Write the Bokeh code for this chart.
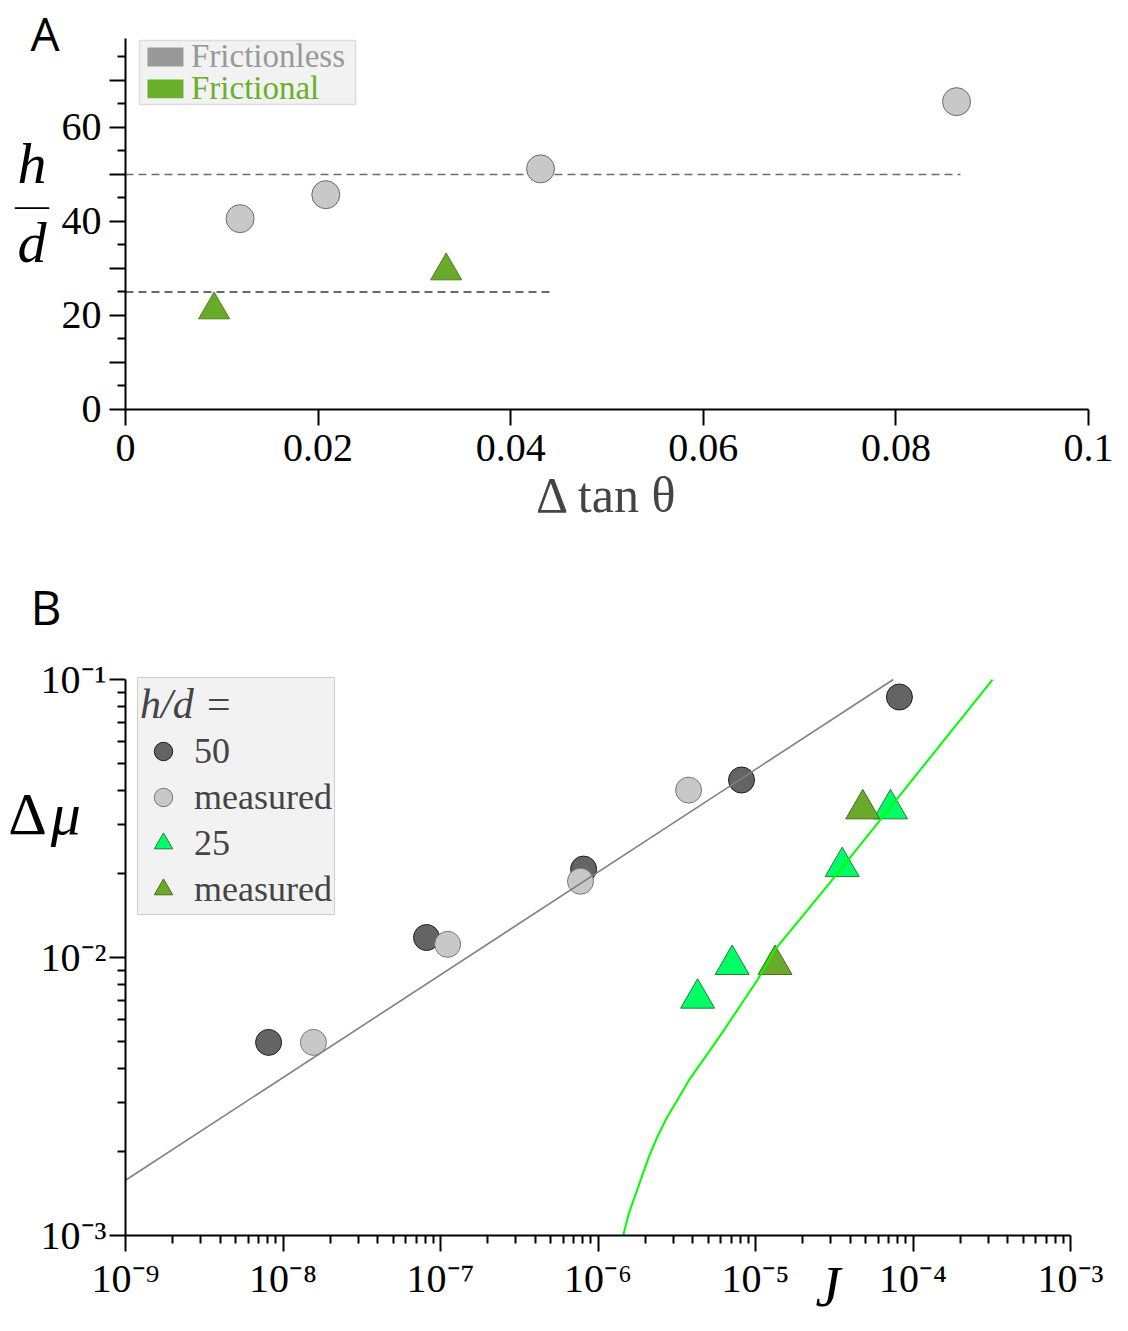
from bokeh.plotting import figure
from bokeh.models import (FixedTicker, CustomJSTickFormatter, Label, BoxAnnotation,
                          Legend, LegendItem, Range1d)
from bokeh.layouts import column
from bokeh.embed import file_html
from bokeh.resources import INLINE

# ---------------- Panel A data ----------------
a_frictionless_dtan = [0.0119, 0.0208, 0.0431, 0.0863]
a_frictionless_hd = [40.6, 45.7, 51.2, 65.5]
a_frictional_dtan = [0.0092, 0.0333]
a_frictional_hd = [21.2, 29.5]
a_ref_hd = [50, 25]
a_ref_xmax = [0.0867, 0.0444]
a_xticks = [0, 0.02, 0.04, 0.06, 0.08, 0.1]
a_yticks = [0, 10, 20, 30, 40, 50, 60, 70]
a_yminor = [5, 15, 25, 35, 45, 55, 65, 75]

# ---------------- Panel B data ----------------
b_J_50 = [8.1e-9, 8.15e-8, 8.1e-7, 8.15e-6, 8.2e-5]
b_dmu_50 = [4.95e-3, 0.0118, 0.0208, 0.0435, 0.0865]
b_J_meas_frless = [1.56e-8, 1.11e-7, 7.74e-7, 3.76e-6]
b_dmu_meas_frless = [4.95e-3, 0.01115, 0.0188, 0.040]
b_J_25 = [4.29e-6, 7.11e-6, 3.55e-5, 7.19e-5]
b_dmu_25 = [7.13e-3, 9.42e-3, 0.0212, 0.0342]
b_J_meas_fr = [1.33e-5, 4.8e-5]
b_dmu_meas_fr = [9.42e-3, 0.0342]
fit_grey_J = [1e-9, 7.5e-5]
fit_grey_dmu = [1.58e-3, 0.1]
fit_green_J = [1.445e-6, 1.569e-6, 1.862e-6, 2.10e-6, 2.377e-6, 2.75e-6, 3.18e-6,
               3.77e-6, 4.48e-6, 5.31e-6, 6.29e-6, 1.026e-5, 1.334e-5, 2.99e-5,
               5.93e-5, 3.2e-4]
fit_green_dmu = [1e-3, 1.2e-3, 1.578e-3, 1.914e-3, 2.26e-3, 2.667e-3, 3.06e-3,
                 3.614e-3, 4.15e-3, 4.762e-3, 5.47e-3, 8.28e-3, 0.0107, 0.01866,
                 0.0303, 0.1]
b_xticks = [1e-9, 1e-8, 1e-7, 1e-6, 1e-5, 1e-4, 1e-3]
b_yticks = [1e-3, 1e-2, 1e-1]

SERIF = "Liberation Serif"
SANS = "Open Sans"


def style_axis(ax, size="40px"):
    ax.axis_line_width = 2
    ax.axis_line_color = "black"
    ax.major_tick_line_width = 2
    ax.minor_tick_line_width = 2
    ax.major_tick_line_color = "black"
    ax.minor_tick_line_color = "black"
    ax.major_tick_out = 16
    ax.major_tick_in = 0
    ax.minor_tick_out = 8
    ax.minor_tick_in = 0
    ax.major_label_text_font = SERIF
    ax.major_label_text_font_size = size
    ax.major_label_text_color = "black"


def lbl(x, y, text, size, font=SERIF, style="normal", color="black", align="left"):
    return Label(x=x, y=y, text=text, text_font=font, text_font_style=style,
                 text_font_size=size, text_color=color, text_align=align,
                 text_baseline="middle")


# ================= Panel A =================
# frame covers the whole figure; axes sit at fixed data locations
pa = figure(width=1128, height=560,
            x_range=Range1d(-0.012980, 0.104154), y_range=Range1d(-32.128, 87.021),
            output_backend="svg", toolbar_location=None,
            min_border_left=0, min_border_right=0, min_border_top=0,
            min_border_bottom=0)
pa.outline_line_color = None
pa.xgrid.visible = False
pa.ygrid.visible = False
pa.background_fill_color = "white"

xa = pa.xaxis[0]
ya = pa.yaxis[0]
style_axis(xa)
style_axis(ya)
xa.fixed_location = 0
xa.bounds = (0, 0.1)
xa.ticker = FixedTicker(ticks=a_xticks, minor_ticks=[])
xa.formatter = CustomJSTickFormatter(
    code="return tick.toFixed(2).replace(/0+$/, '').replace(/\\.$/, '');")
xa.major_label_standoff = 10
xa.axis_label = "Δ tan θ"
xa.axis_label_text_font = SERIF
xa.axis_label_text_font_style = "normal"
xa.axis_label_text_font_size = "50px"
xa.axis_label_standoff = 2
ya.fixed_location = 0
ya.bounds = (0, 79)
ya.ticker = FixedTicker(ticks=a_yticks, minor_ticks=a_yminor)
ya.formatter = CustomJSTickFormatter(
    code="const t = Math.round(tick); return (t % 20 == 0) ? String(t) : '';")
ya.major_label_standoff = 8

for hd, xm, col in zip(a_ref_hd, a_ref_xmax, ["#6e6e6e", "#3a3a3a"]):
    pa.line([0, xm], [hd, hd], line_dash="8 5", line_color=col, line_width=1.5)

pa.scatter(a_frictionless_dtan, a_frictionless_hd, marker="circle", size=28,
           fill_color="#c8c8c8", line_color="#6b6b6b", line_width=1)
pa.scatter(a_frictional_dtan, a_frictional_hd, marker="triangle", size=31,
           fill_color="#6aaa2a", line_color="#4f7f25", line_width=1)

# legend of panel A (coloured labels)
pa.add_layout(BoxAnnotation(left=0.00145, right=0.0239, bottom=64.9, top=78.5,
                            fill_color="#f2f2f2", fill_alpha=1,
                            line_color="#a0a0a0", line_width=1.5))
pa.add_layout(BoxAnnotation(left=0.00228, right=0.00602, bottom=73.0, top=77.0,
                            fill_color="#999999", fill_alpha=1, line_color=None))
pa.add_layout(BoxAnnotation(left=0.00228, right=0.00602, bottom=66.2, top=70.2,
                            fill_color="#6ab02a", fill_alpha=1, line_color=None))
pa.add_layout(lbl(0.0068, 75.3, "Frictionless", "33px", color="#999999"))
pa.add_layout(lbl(0.0068, 68.5, "Frictional", "33px", color="#6ab02a"))

# panel letter and fraction label h/d
pa.add_layout(lbl(-0.00987, 80.0, "A", "46px", font=SANS))
pa.add_layout(lbl(-0.0097, 52.3, "h", "58px", style="italic", align="center"))
pa.add_layout(lbl(-0.0097, 43.6, "—", "34px", align="center"))
pa.add_layout(lbl(-0.0097, 35.5, "d", "58px", style="italic", align="center"))

# ================= Panel B =================
pb = figure(width=1128, height=771, x_axis_type="log", y_axis_type="log",
            x_range=Range1d(10 ** -9.79365, 10 ** -2.63175),
            y_range=Range1d(10 ** -3.34532, 10 ** -0.57194),
            output_backend="svg", toolbar_location=None,
            min_border_left=0, min_border_right=0, min_border_top=0,
            min_border_bottom=0)
pb.outline_line_color = None
pb.xgrid.visible = False
pb.ygrid.visible = False
pb.background_fill_color = "white"

log_fmt = """
const e = Math.round(Math.log10(tick));
const sup = {'-': '\u207b', '0': '\u2070', '1': '\u00b9', '2': '\u00b2', '3': '\u00b3',
             '4': '\u2074', '5': '\u2075', '6': '\u2076', '7': '\u2077', '8': '\u2078', '9': '\u2079'};
return '10' + String(e).split('').map(c => sup[c]).join('');
"""
b_xminor = [k * 10.0 ** n for n in range(-9, -3) for k in range(2, 10)]
b_yminor = [k * 10.0 ** n for n in range(-3, -1) for k in range(2, 10)]

xb = pb.xaxis[0]
yb = pb.yaxis[0]
style_axis(xb)
style_axis(yb)
xb.fixed_location = 1e-3
xb.bounds = (1e-9, 1e-3)
xb.ticker = FixedTicker(ticks=b_xticks, minor_ticks=b_xminor)
xb.formatter = CustomJSTickFormatter(code=log_fmt)
xb.major_label_standoff = 4
yb.fixed_location = 1e-9
yb.bounds = (1e-3, 1e-1)
yb.ticker = FixedTicker(ticks=b_yticks, minor_ticks=b_yminor)
yb.formatter = CustomJSTickFormatter(code=log_fmt)
yb.major_label_standoff = 3

r_50 = pb.scatter(b_J_50, b_dmu_50, marker="circle", size=26,
                  fill_color="#646464", line_color="#1e1e1e", line_width=1)
r_mf = pb.scatter(b_J_meas_frless, b_dmu_meas_frless, marker="circle", size=26,
                  fill_color="#c8c8c8", line_color="#777777", line_width=1)
r_25 = pb.scatter(b_J_25, b_dmu_25, marker="triangle", size=34,
                  fill_color="#00ff66", line_color="#2a7a3a", line_width=1)
r_mr = pb.scatter(b_J_meas_fr, b_dmu_meas_fr, marker="triangle", size=34,
                  fill_color="#6aaa2a", line_color="#4a6a20", line_width=1)
pb.line(fit_grey_J, fit_grey_dmu, line_color="#808080", line_width=1.6)
pb.line(fit_green_J, fit_green_dmu, line_color="#00ff00", line_width=2,
        line_join="round")

legend_b = Legend(
    items=[LegendItem(label="50", renderers=[r_50]),
           LegendItem(label="measured", renderers=[r_mf]),
           LegendItem(label="25", renderers=[r_25]),
           LegendItem(label="measured", renderers=[r_mr])],
    location=(137, 416), title="h/d =", title_text_font=SERIF,
    title_text_font_style="italic", title_text_font_size="42px",
    label_text_font=SERIF, label_text_font_size="36px",
    glyph_width=46, glyph_height=46, label_height=20, spacing=0,
    padding=2, label_standoff=8, title_standoff=0, margin=0,
    border_line_color="#aaaaaa", border_line_width=1.5,
    background_fill_color="#f2f2f2", background_fill_alpha=1)
pb.add_layout(legend_b)

pb.add_layout(lbl(10 ** -9.603, 10 ** -0.7392, "B", "48px", font=SANS))
pb.add_layout(lbl(10 ** -9.745, 10 ** -1.4856, "Δ", "60px"))
pb.add_layout(lbl(10 ** -9.475, 10 ** -1.4856, "μ", "60px", style="italic"))
pb.add_layout(lbl(10 ** -4.619, 10 ** -3.1835, "J", "56px", style="italic"))

layout = column(pa, pb)
with open("out.html", "w", encoding="utf-8") as f:
    f.write(file_html(layout, INLINE))
